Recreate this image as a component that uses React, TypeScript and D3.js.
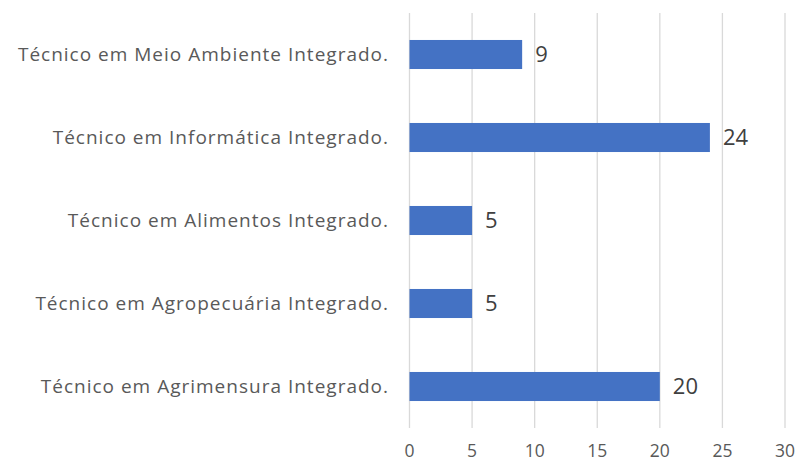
import React from "react";
import * as d3 from "d3";

const categories = [
  "Técnico em Meio Ambiente Integrado.",
  "Técnico em Informática Integrado.",
  "Técnico em Alimentos Integrado.",
  "Técnico em Agropecuária Integrado.",
  "Técnico em Agrimensura Integrado.",
];
const values = [9, 24, 5, 5, 20];
const ticks = [0, 5, 10, 15, 20, 25, 30];

const W = 795;
const H = 461;
const left = 409.5;
const right = 785;
const top = 13;
const bottom = 428;

export default function App() {
  const x = d3.scaleLinear().domain([0, 30]).range([left, right]);
  const y = d3.scaleBand<string>().domain(categories).range([top, bottom]).paddingInner(0.65).paddingOuter(0.325);
  const font = "'Open Sans', sans-serif";
  return (
    <svg width={W} height={H} style={{ position: "absolute", left: 0, top: 0, background: "#fff" }}>
      {ticks.map((t) => (
        <line key={t} x1={x(t)} x2={x(t)} y1={top} y2={bottom} stroke="#d9d9d9" strokeWidth={1.3} />
      ))}
      {categories.map((c, i) => (
        <g key={c}>
          <rect x={x(0)} y={y(c)!} width={x(values[i]) - x(0)} height={y.bandwidth()} fill="#4472C4" />
          <text x={389} y={y(c)! + y.bandwidth() / 2} dy="0.35em" textAnchor="end" fontFamily={font} fontSize={19} letterSpacing={1} fill="#595959">{c}</text>
          <text x={x(values[i]) + 13} y={y(c)! + y.bandwidth() / 2} dy="0.35em" textAnchor="start" fontFamily={font} fontSize={22} fill="#404040">{values[i]}</text>
        </g>
      ))}
      {ticks.map((t) => (
        <text key={t} x={x(t)} y={450.5} dy="0.35em" textAnchor="middle" fontFamily={font} fontSize={17.5} fill="#595959">{t}</text>
      ))}
    </svg>
  );
}
